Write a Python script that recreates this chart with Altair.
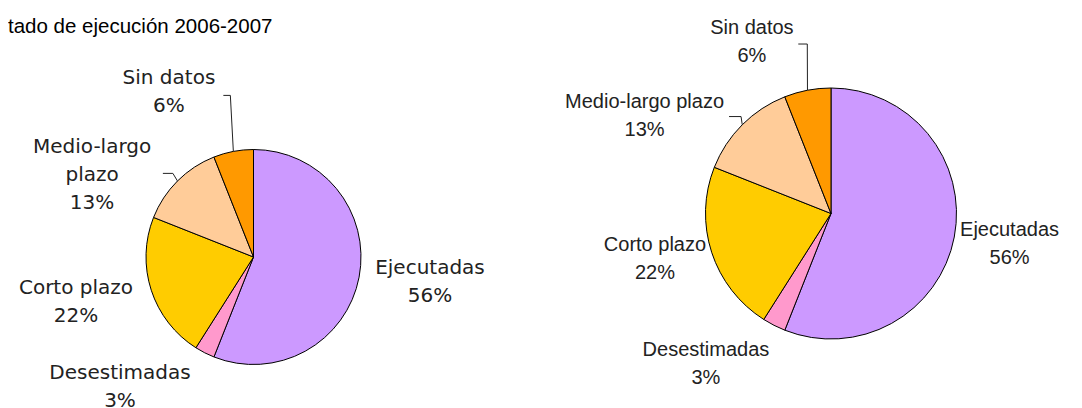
import math
import altair as alt
import pandas as pd

# ---- data ----
title = "Estado de ejecución 2006-2007"
categories = ["Ejecutadas", "Desestimadas", "Corto plazo", "Medio-largo plazo", "Sin datos"]
values = [56, 3, 22, 13, 6]
colors = ["#CC99FF", "#FF99CC", "#FFCC00", "#FFCC99", "#FF9900"]
left_names = ["Ejecutadas", "Desestimadas", "Corto plazo", "Medio-largo\nplazo", "Sin datos"]
right_names = ["Ejecutadas", "Desestimadas", "Corto plazo", "Medio-largo plazo", "Sin datos"]

# ---- layout (page coordinates, body margin 8px) ----
OFF = 8
W, H = 1066, 400
LEFT = dict(cx=253.5, cy=257, r=107.5,
            lab_r=[176.8, 176.9, 180.2, 195.4, 197.9],
            lab_shift=[-7.2, 22.0, 8.1, -10.7, -14.5],
            leaders={3: [(-4.6, -7.6), (-14.6, -7.6)], 4: [(-3, -56), (-10, -56)]},
            font="DejaVu Sans", size=20)
RIGHT = dict(cx=831, cy=213.5, r=125.5,
             lab_r=[179.3, 185.1, 178.8, 217.3, 201.6],
             lab_shift=[-5.5, 15.5, 7.9, -14.1, -12.3],
             leaders={3: [(-1.2, -8.2), (-13.2, -8.2)], 4: [(-0.2, -46.2), (-9.2, -46.2)]},
             font="Liberation Sans", size=20)

total = sum(values)
mids = []
acc = 0
for v in values:
    mids.append((acc + v / 2) / total * 360)
    acc += v

df = pd.DataFrame({"cat": categories, "value": values, "idx": list(range(len(values)))})


def pie_layers(cfg, names, key):
    cx, cy, r = cfg["cx"] - OFF, cfg["cy"] - OFF, cfg["r"]
    arc = alt.Chart(df).mark_arc(radius=r, stroke="black", strokeWidth=1).encode(
        theta=alt.Theta("value:Q", stack=True),
        color=alt.Color("cat:N", scale=alt.Scale(domain=categories, range=colors), legend=None),
        order=alt.Order("idx:Q", sort="ascending"),
        x=alt.value(cx), y=alt.value(cy),
    )
    rows = []
    for i, (n, v) in enumerate(zip(names, values)):
        a = math.radians(mids[i] + cfg["lab_shift"][i])
        rr = cfg["lab_r"][i]
        rows.append({"label": f"{n}\n{v}%", "lx": cx + rr * math.sin(a), "ly": cy - rr * math.cos(a)})
    lab = alt.Chart(pd.DataFrame(rows)).mark_text(
        font=cfg["font"], fontSize=cfg["size"], lineBreak="\n", lineHeight=28,
        align="center", baseline="middle", color="#222222"
    ).encode(
        text="label:N",
        x=alt.X("lx:Q", scale=None),
        y=alt.Y("ly:Q", scale=None),
    )
    pts = []
    for i, segs in cfg["leaders"].items():
        a = math.radians(mids[i])
        px, py = cx + r * math.sin(a), cy - r * math.cos(a)
        pts.append({"seg": f"{key}{i}", "k": 0, "px": px, "py": py})
        for k, (dx, dy) in enumerate(segs, start=1):
            pts.append({"seg": f"{key}{i}", "k": k, "px": px + dx, "py": py + dy})
    lead = alt.Chart(pd.DataFrame(pts)).mark_line(color="#222222", strokeWidth=1).encode(
        x=alt.X("px:Q", scale=None),
        y=alt.Y("py:Q", scale=None),
        detail="seg:N",
        order="k:Q",
    )
    return [arc, lead, lab]


title_layer = alt.Chart(pd.DataFrame({"t": [title]})).mark_text(
    align="left", baseline="middle", font="Liberation Sans", fontSize=20.5, color="black"
).encode(text="t:N", x=alt.value(-23.9), y=alt.value(27 - OFF))

chart = alt.layer(
    title_layer,
    *pie_layers(LEFT, left_names, "L"),
    *pie_layers(RIGHT, right_names, "R"),
).properties(
    width=W, height=H, autosize=alt.AutoSizeParams(type="none"), padding=0
).configure_view(stroke=None)

chart.save("out.html", embed_options={"renderer": "svg", "actions": False})
